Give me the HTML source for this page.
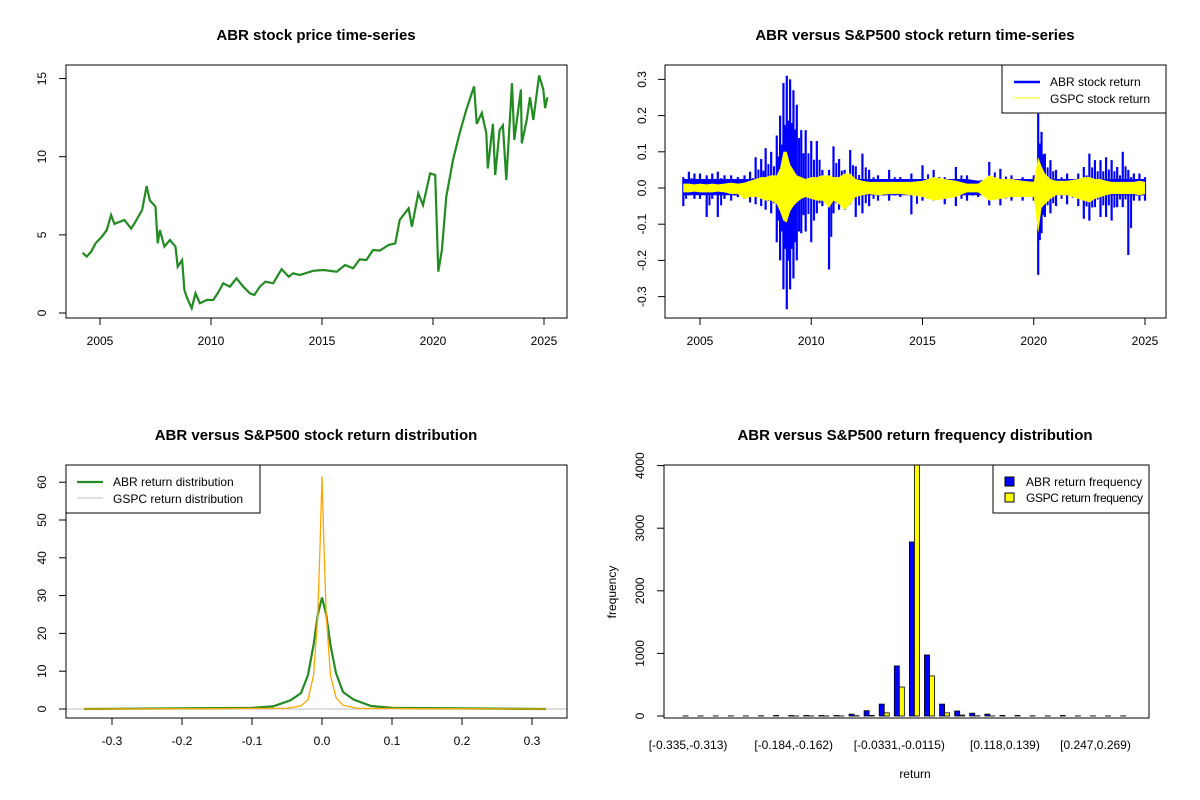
<!DOCTYPE html>
<html><head><meta charset="utf-8"><style>
html,body{margin:0;padding:0;background:#fff;}
svg{display:block;font-family:"Liberation Sans",Arial,sans-serif;}
.t{font-size:15px;font-weight:bold;text-anchor:middle;}
.k{font-size:12px;}
</style></head><body>
<svg id="svg" width="1200" height="800" viewBox="0 0 1200 800" xmlns="http://www.w3.org/2000/svg">
<defs>
<clipPath id="c1"><rect x="66" y="65" width="501" height="253"/></clipPath>
<clipPath id="c2"><rect x="665" y="65" width="501" height="253"/></clipPath>
<clipPath id="c3"><rect x="66" y="465" width="501" height="253"/></clipPath>
<clipPath id="c4"><rect x="664" y="465" width="485" height="253"/></clipPath>
</defs>
<text class="t" x="316" y="40">ABR stock price time-series</text>
<text class="t" x="915" y="40">ABR versus S&amp;P500 stock return time-series</text>
<text class="t" x="316" y="440">ABR versus S&amp;P500 stock return distribution</text>
<text class="t" x="915" y="440">ABR versus S&amp;P500 return frequency distribution</text>
<g id="p1"></g>
<g id="p2"></g>
<g id="p3"></g>
<g id="p4"></g>
</svg>
<script>
// ---- price data ----
const priceYears=[2004.22,2004.4,2004.6,2004.8,2005.08,2005.3,2005.5,2005.65,2005.9,2006.1,2006.4,2006.6,2006.9,2007.1,2007.25,2007.5,2007.6,2007.7,2007.9,2008.15,2008.4,2008.5,2008.7,2008.8,2008.9,2009.13,2009.3,2009.5,2009.8,2010.1,2010.3,2010.55,2010.85,2011.15,2011.45,2011.75,2011.95,2012.2,2012.45,2012.8,2013.18,2013.5,2013.7,2014.0,2014.6,2015.06,2015.66,2016.04,2016.4,2016.7,2017.0,2017.3,2017.6,2018.0,2018.3,2018.5,2018.9,2019.05,2019.34,2019.55,2019.87,2020.1,2020.24,2020.4,2020.6,2020.9,2021.2,2021.5,2021.85,2021.97,2022.2,2022.4,2022.47,2022.7,2022.8,2023.0,2023.15,2023.3,2023.56,2023.66,2023.96,2024.0,2024.22,2024.37,2024.52,2024.78,2024.97,2025.05,2025.15];
const priceValues=[3.86,3.6,3.92,4.46,4.88,5.3,6.27,5.7,5.84,5.95,5.4,5.84,6.6,8.12,7.2,6.8,4.46,5.3,4.24,4.67,4.24,2.96,3.39,1.47,1.04,0.3,1.26,0.62,0.83,0.83,1.26,1.9,1.68,2.22,1.68,1.26,1.15,1.68,2.0,1.9,2.8,2.32,2.54,2.43,2.7,2.75,2.64,3.07,2.86,3.43,3.39,4.03,3.99,4.35,4.46,5.95,6.7,5.52,7.65,6.9,8.93,8.83,2.64,4.03,7.44,9.79,11.5,13.0,14.5,12.1,12.8,11.5,9.25,12.1,8.83,11.7,12.0,8.5,14.7,11.07,14.3,10.85,12.35,13.8,12.35,15.2,14.3,13.1,13.8];
// ---- return data (period envelopes) ----
const retYears=[2004.25,2004.5,2004.75,2005,2005.3,2005.55,2005.8,2006.1,2006.4,2006.7,2007,2007.25,2007.5,2007.75,2007.95,2008.2,2008.45,2008.6,2008.75,2008.9,2009.05,2009.2,2009.35,2009.55,2009.75,2010.0,2010.25,2010.5,2010.8,2011.0,2011.25,2011.5,2011.75,2012,2012.3,2012.6,2013,2013.5,2014,2014.5,2015,2015.5,2016,2016.5,2017,2017.5,2018,2018.5,2019,2019.5,2020,2020.2,2020.35,2020.5,2020.75,2021,2021.5,2022,2022.25,2022.5,2022.75,2023,2023.25,2023.5,2023.75,2024,2024.25,2024.5,2024.75,2025];
const abrHigh=[0.03,0.045,0.04,0.04,0.035,0.04,0.045,0.035,0.035,0.03,0.035,0.045,0.085,0.08,0.11,0.1,0.145,0.2,0.29,0.31,0.3,0.27,0.23,0.16,0.16,0.13,0.13,0.05,0.05,0.115,0.08,0.05,0.105,0.06,0.095,0.05,0.035,0.05,0.03,0.04,0.063,0.05,0.03,0.058,0.035,0.02,0.072,0.053,0.035,0.03,0.035,0.205,0.155,0.095,0.077,0.05,0.04,0.04,0.058,0.095,0.077,0.077,0.085,0.077,0.058,0.1,0.05,0.04,0.04,0.03];
const abrLow=[-0.05,-0.02,-0.03,-0.03,-0.08,-0.03,-0.08,-0.03,-0.035,-0.025,-0.03,-0.04,-0.045,-0.05,-0.06,-0.07,-0.15,-0.2,-0.28,-0.335,-0.28,-0.25,-0.2,-0.125,-0.12,-0.15,-0.07,-0.05,-0.225,-0.07,-0.06,-0.06,-0.045,-0.08,-0.07,-0.05,-0.035,-0.035,-0.025,-0.073,-0.035,-0.035,-0.045,-0.05,-0.035,-0.025,-0.048,-0.048,-0.035,-0.035,-0.035,-0.24,-0.125,-0.08,-0.07,-0.05,-0.045,-0.05,-0.085,-0.09,-0.053,-0.08,-0.08,-0.09,-0.053,-0.053,-0.185,-0.035,-0.035,-0.035];
const gspcHigh=[0.012,0.012,0.01,0.012,0.01,0.012,0.01,0.012,0.015,0.012,0.015,0.02,0.025,0.03,0.03,0.035,0.035,0.055,0.1,0.1,0.065,0.05,0.035,0.03,0.025,0.03,0.03,0.035,0.035,0.03,0.03,0.04,0.04,0.025,0.02,0.017,0.017,0.017,0.017,0.017,0.02,0.03,0.025,0.02,0.012,0.012,0.035,0.025,0.025,0.02,0.017,0.085,0.06,0.04,0.025,0.02,0.02,0.025,0.03,0.03,0.025,0.025,0.02,0.017,0.017,0.017,0.017,0.017,0.02,0.017];
const gspcLow=[-0.012,-0.012,-0.01,-0.012,-0.012,-0.012,-0.01,-0.012,-0.017,-0.017,-0.03,-0.025,-0.025,-0.03,-0.035,-0.035,-0.045,-0.065,-0.09,-0.095,-0.065,-0.05,-0.04,-0.03,-0.025,-0.03,-0.035,-0.035,-0.055,-0.035,-0.045,-0.06,-0.045,-0.025,-0.02,-0.017,-0.02,-0.017,-0.017,-0.02,-0.025,-0.035,-0.03,-0.025,-0.012,-0.012,-0.035,-0.03,-0.025,-0.025,-0.025,-0.125,-0.055,-0.045,-0.03,-0.02,-0.02,-0.03,-0.035,-0.04,-0.03,-0.025,-0.02,-0.017,-0.017,-0.017,-0.017,-0.017,-0.02,-0.017];
// ---- density data ----
const abrDensX=[-0.34,-0.1,-0.07,-0.045,-0.03,-0.02,-0.012,-0.006,0,0.006,0.012,0.02,0.03,0.045,0.07,0.1,0.32];
const abrDensY=[0,0.3,0.7,2.3,4.2,9,17,25,29.5,25,17,9.5,4.5,2.5,0.8,0.3,0];
const gspcDensX=[-0.34,-0.05,-0.03,-0.02,-0.012,-0.006,-0.003,0,0.003,0.006,0.012,0.02,0.03,0.05,0.32];
const gspcDensY=[0,0.2,0.8,2.5,9,25,42,61.5,42,25,9,3,1,0.2,0];
const densXTicks=[-0.3,-0.2,-0.1,0,0.1,0.2,0.3];
const densXLabels=["-0.3","-0.2","-0.1","0.0","0.1","0.2","0.3"];
const densYTicks=[0,10,20,30,40,50,60];
// ---- histogram data ----
const binLabels=["[-0.335,-0.313)","","","","","","","[-0.184,-0.162)","","","","","","","[-0.0331,-0.0115)","","","","","","","[0.118,0.139)","","","","","","[0.247,0.269)","",""];
const abrFreq=[2,2,2,2,2,4,8,8,8,8,8,30,85,190,800,2780,975,190,80,45,30,10,8,3,2,8,2,2,2,2];
const gspcFreq=[0,0,0,0,0,0,0,1,1,1,1,5,10,50,463,4300,640,50,15,3,1,0,0,0,0,0,0,0,0,0];
const histYTicks=[0,1000,2000,3000,4000];

const NS="http://www.w3.org/2000/svg";
function mk(parent,tag,attrs){const e=document.createElementNS(NS,tag);for(const k in attrs)e.setAttribute(k,attrs[k]);parent.appendChild(e);return e;}
function txt(parent,x,y,s,anchor,rot){const e=mk(parent,'text',{x:x,y:y,'class':'k','text-anchor':anchor||'middle'});if(rot)e.setAttribute('transform','rotate(-90 '+x+' '+y+')');e.textContent=s;return e;}

// Panel 1
(function(){
const g=document.getElementById('p1');
const X=v=>100+(v-2005)*22.2, Y=v=>313-v*15.63;
const box=mk(g,'rect',{x:66,y:65,width:501,height:253,fill:'none',stroke:'#000'});

const pts=priceYears.map((yr,i)=>X(yr).toFixed(1)+','+Y(priceValues[i]).toFixed(1)).join(' ');
const line=mk(g,'polyline',{points:pts,fill:'none',stroke:'#228B22','stroke-width':2.2,'clip-path':'url(#c1)'});

[2005,2010,2015,2020,2025].forEach(v=>{mk(g,'line',{x1:X(v),x2:X(v),y1:318,y2:325,stroke:'#000'});const t=txt(g,X(v),345,String(v));});
[0,5,10,15].forEach(v=>{mk(g,'line',{x1:59,x2:66,y1:Y(v),y2:Y(v),stroke:'#000'});const t=txt(g,46,Y(v),String(v),'middle',true);});
})();

// Panel 2
(function(){
const g=document.getElementById('p2');
const X=v=>700+(v-2005)*22.25, Y=v=>188-v*362;
const bg=mk(g,'g',{'clip-path':'url(#c2)'});
let d='';retYears.forEach((yr,i)=>{const x=X(yr);d+=(i?'L':'M')+x+','+Y(Math.min(abrHigh[i],0.025));});
for(let i=retYears.length-1;i>=0;i--){d+='L'+X(retYears[i])+','+Y(Math.max(abrLow[i],-0.02));}
const core=mk(bg,'path',{d:d+'Z',fill:'#0000FF'});

retYears.forEach((yr,i)=>{const x=X(yr);
const l=mk(bg,'line',{x1:x,x2:x,y1:Y(abrHigh[i]),y2:Y(abrLow[i]),stroke:'#0000FF','stroke-width':2.2});

if(i<retYears.length-1){const x2=(x+X(retYears[i+1]))/2;
const l2=mk(bg,'line',{x1:x2,x2:x2,y1:Y(abrHigh[i]*0.6),y2:Y(abrLow[i]*0.6),stroke:'#0000FF','stroke-width':2});
}
});
let d2='';retYears.forEach((yr,i)=>{d2+=(i?'L':'M')+X(yr)+','+Y(gspcHigh[i]);});
for(let i=retYears.length-1;i>=0;i--){d2+='L'+X(retYears[i])+','+Y(gspcLow[i]);}
const gs=mk(bg,'path',{d:d2+'Z',fill:'#FFFF00'});

mk(g,'rect',{x:665,y:65,width:501,height:253,fill:'none',stroke:'#000'});
[2005,2010,2015,2020,2025].forEach(v=>{mk(g,'line',{x1:X(v),x2:X(v),y1:318,y2:325,stroke:'#000'});const t=txt(g,X(v),345,String(v));});
[-0.3,-0.2,-0.1,0,0.1,0.2,0.3].forEach(v=>{mk(g,'line',{x1:658,x2:665,y1:Y(v),y2:Y(v),stroke:'#000'});const t=txt(g,646,Y(v),v===0?'0.0':v.toFixed(1),'middle',true);});
const lg=mk(g,'g',{});
mk(lg,'rect',{x:1002,y:65,width:164,height:48,fill:'#fff',stroke:'#000'});
mk(lg,'line',{x1:1014,x2:1040,y1:82,y2:82,stroke:'#0000FF','stroke-width':2.5});
mk(lg,'line',{x1:1014,x2:1040,y1:98,y2:98,stroke:'#FFFF00','stroke-width':1});
txt(lg,1050,86,'ABR stock return','start');txt(lg,1050,103,'GSPC stock return','start');
})();

// Panel 3
(function(){
const g=document.getElementById('p3');
const X=v=>322+v*700, Y=v=>709-v*3.78;
const bg=mk(g,'g',{'clip-path':'url(#c3)'});
mk(bg,'line',{x1:66,x2:567,y1:709,y2:709,stroke:'#BEBEBE'});
const a=mk(bg,'polyline',{points:abrDensX.map((x,i)=>X(x)+','+Y(abrDensY[i])).join(' '),fill:'none',stroke:'#228B22','stroke-width':2.2});

const b=mk(bg,'polyline',{points:gspcDensX.map((x,i)=>X(x)+','+Y(gspcDensY[i])).join(' '),fill:'none',stroke:'#FFA500','stroke-width':1.3});

mk(g,'rect',{x:66,y:465,width:501,height:253,fill:'none',stroke:'#000'});
densXTicks.forEach((v,i)=>{mk(g,'line',{x1:X(v),x2:X(v),y1:718,y2:725,stroke:'#000'});const t=txt(g,X(v),745,densXLabels[i]);});
densYTicks.forEach(v=>{mk(g,'line',{x1:59,x2:66,y1:Y(v),y2:Y(v),stroke:'#000'});const t=txt(g,46,Y(v),String(v),'middle',true);});
const lg=mk(g,'g',{});
mk(lg,'rect',{x:66,y:465,width:194,height:48,fill:'#fff',stroke:'#000'});
mk(lg,'line',{x1:77,x2:103,y1:482,y2:482,stroke:'#228B22','stroke-width':2.2});
mk(lg,'line',{x1:77,x2:103,y1:498,y2:498,stroke:'#BEBEBE','stroke-width':1});
txt(lg,113,486,'ABR return distribution','start');txt(lg,113,503,'GSPC return distribution','start');
})();

// Panel 4
(function(){
const g=document.getElementById('p4');
const u=5.03, start=678;
const C=i=>start+u*(3*i+2), Y=v=>716-v*0.0626;
const bg=mk(g,'g',{'clip-path':'url(#c4)'});
abrFreq.forEach((v,i)=>{const r=mk(bg,'rect',{x:C(i)-u,y:Y(v),width:u,height:716-Y(v),fill:'#0000FF',stroke:'#000','stroke-width':0.8});
});
gspcFreq.forEach((v,i)=>{const r=mk(bg,'rect',{x:C(i),y:Y(v),width:u,height:716-Y(v),fill:'#FFFF00',stroke:'#000','stroke-width':0.8});
});
mk(g,'rect',{x:664,y:465,width:485,height:253,fill:'none',stroke:'#000'});
binLabels.forEach((s,i)=>{if(s){const t=txt(g,C(i),749,s);}});
histYTicks.forEach(v=>{mk(g,'line',{x1:657,x2:664,y1:Y(v),y2:Y(v),stroke:'#000'});const t=txt(g,644,Y(v),String(v),'middle',true);});
const xl=txt(g,915,778,'return');
const yl=txt(g,616,592,'frequency','middle',true);
const lg=mk(g,'g',{});
mk(lg,'rect',{x:993,y:465,width:156,height:48,fill:'#fff',stroke:'#000'});
mk(lg,'rect',{x:1005,y:477,width:9,height:9,fill:'#0000FF',stroke:'#000'});
mk(lg,'rect',{x:1005,y:493,width:9,height:9,fill:'#FFFF00',stroke:'#000'});
const t1=txt(lg,1026,486,'ABR return frequency','start');t1.setAttribute('textLength','116');
const t2=txt(lg,1026,502,'GSPC return frequency','start');t2.setAttribute('textLength','117');
})();
</script>
</body></html>
